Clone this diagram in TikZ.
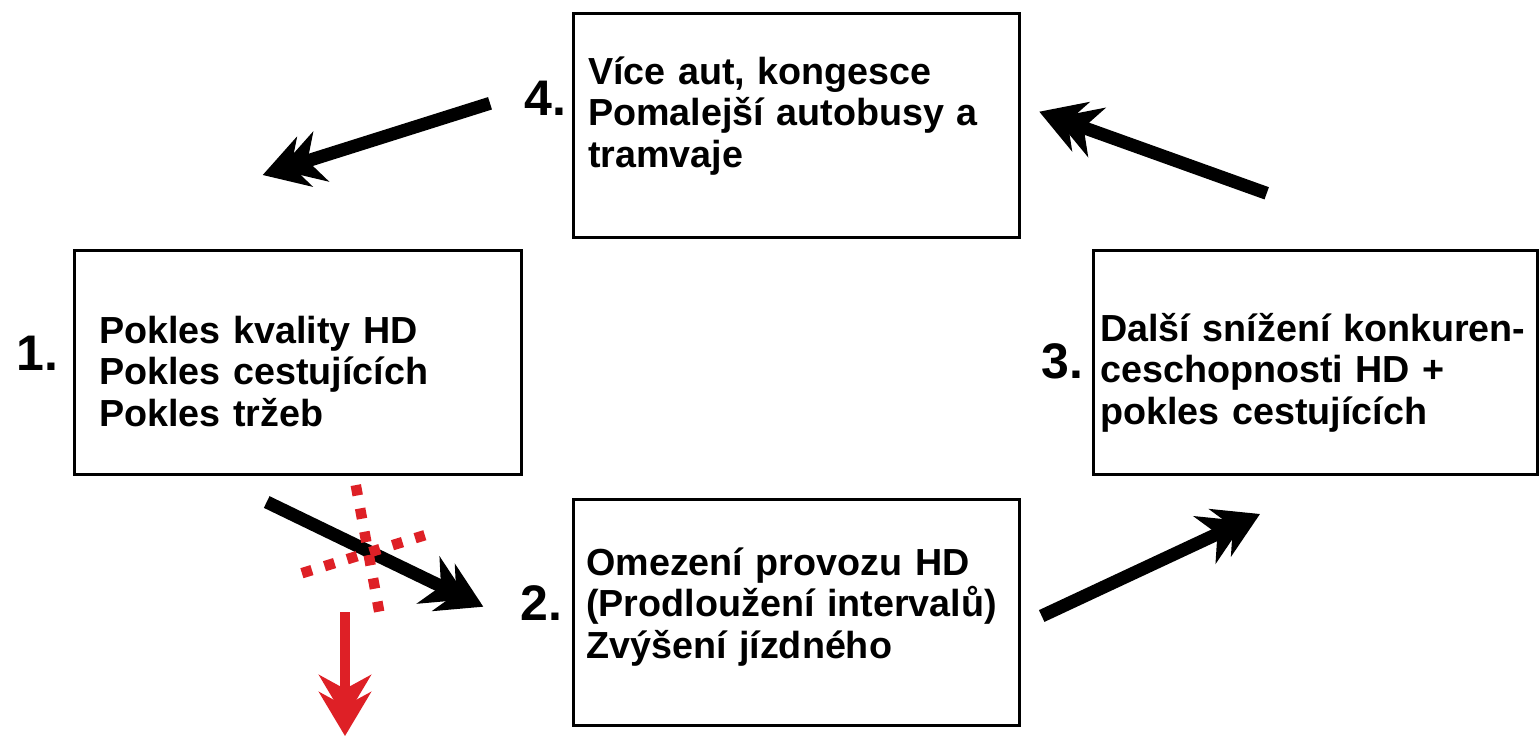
\documentclass[tikz,border=0pt]{standalone}
\usepackage{fontspec}
\setmainfont{Liberation Sans}
\usetikzlibrary{arrows.meta}
\definecolor{myred}{RGB}{222,32,38}
\begin{document}
\begin{tikzpicture}[x=1pt,y=-1pt,
  box/.style={draw=black, line width=2.5pt, anchor=north west, inner sep=0pt},
  txt/.style={anchor=base west, inner sep=0pt, align=left, text width=470pt,
    font=\fontsize{37.7}{41.5}\selectfont\bfseries},
  num/.style={anchor=base west, inner sep=0pt, font=\fontsize{50}{54}\selectfont\bfseries},
  dhead/.tip={Stealth[length=44pt,width=52pt,inset=14pt,sep=-27pt]Stealth[length=44pt,width=52pt,inset=14pt,sep=0pt]},
  bigarrow/.style={line width=13pt, -{dhead}},
  redarrow/.style={line width=10pt, draw=myred, fill=myred, -{dhead}},
  reddots/.style={draw=myred, line width=10.5pt, dash pattern=on 10.5pt off 13.2pt}]
\useasboundingbox (0,0) rectangle (1540,736);
% boxes
\node[box, minimum width=447pt, minimum height=224pt] (b1) at (73,249) {};
\node[box, minimum width=446pt, minimum height=224pt] (b4) at (572,12) {};
\node[box, minimum width=444pt, minimum height=224pt] (b3) at (1092,249) {};
\node[box, minimum width=446pt, minimum height=226pt] (b2) at (572,498) {};
% texts
\node[txt] (t1) at (99,343) {Pokles kvality HD\\Pokles cestujících\\Pokles tržeb};
\node[txt] (t4) at (588,84) {Více aut, kongesce\\Pomalejší autobusy a\\tramvaje};
\node[txt] (t3) at (1100,341) {Další snížení konkuren-\\ceschopnosti HD +\\pokles cestujících};
\node[txt] (t2) at (586,575) {Omezení provozu HD\\(Prodloužení intervalů)\\Zvýšení jízdného};
% numbers
\node[num] (n1) at (16,370) {1.};
\node[num] (n2) at (520,620) {2.};
\node[num] (n3) at (1041,378) {3.};
\node[num] (n4) at (524,115) {4.};
% arrow end points
\coordinate (a1s) at (266.7,502);
\coordinate (a1e) at (483.3,606.7);
\coordinate (a2s) at (1041.7,616);
\coordinate (a2e) at (1260,514);
\coordinate (a3s) at (1266.7,193.3);
\coordinate (a3e) at (1039.3,111.7);
\coordinate (a4s) at (490,103.3);
\coordinate (a4e) at (262.7,175);
\coordinate (rs) at (345,612);
\coordinate (re) at (345,736);
\coordinate (v1) at (355.8,485.1);
\coordinate (v2) at (379.2,611.6);
\coordinate (h1) at (301.9,573.2);
\coordinate (h2) at (424.8,535.2);
% arrows
\draw[bigarrow] (a1s) -- (a1e);
\draw[bigarrow] (a2s) -- (a2e);
\draw[bigarrow] (a3s) -- (a3e);
\draw[bigarrow] (a4s) -- (a4e);
\draw[redarrow] (rs) -- (re);
% red dotted cross
\draw[reddots] (v1) -- (v2);
\draw[reddots] (h1) -- (h2);
\end{tikzpicture}
\end{document}
